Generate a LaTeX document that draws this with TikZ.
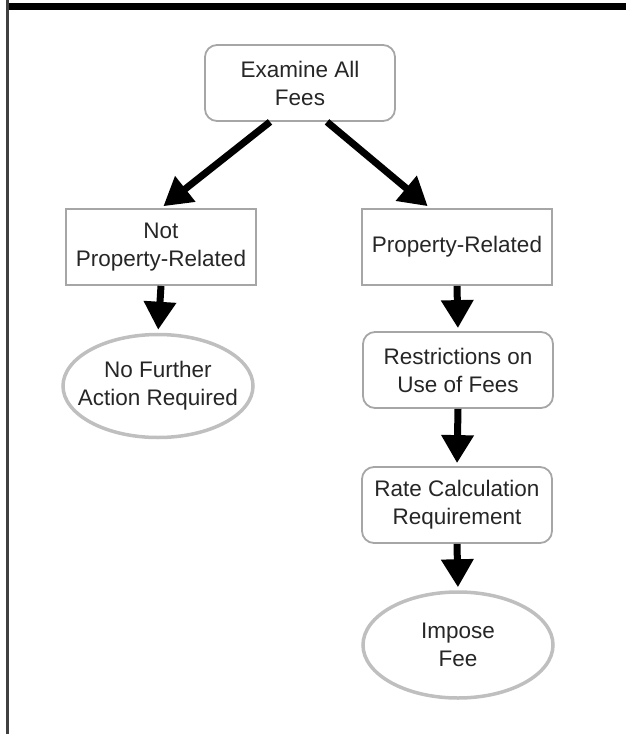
\documentclass[tikz,border=0pt]{standalone}
\usepackage{fontspec}
\setmainfont{Liberation Sans}
\usetikzlibrary{arrows.meta,shapes.geometric}
\tikzset{%
  stepnode/.style = {shape=rectangle, draw=black!35, line width=1.8pt,%
                     align=center, inner sep=0pt, text=black!85,%
                     minimum width=190pt, minimum height=76pt,%
                     font=\fontsize{22.5}{28}\selectfont},%
  roundnode/.style = {stepnode, rounded corners=12pt},%
  endnode/.style   = {stepnode, ellipse, draw=black!25, line width=3.5pt,%
                      inner xsep=-25pt, minimum height=103pt},%
  flow/.style      = {line width=7pt, -{Triangle[width=31pt,length=28pt]}, shorten >=3pt}%
}
\begin{document}
\begin{tikzpicture}[x=1pt,y=-1pt]
	\useasboundingbox (0,0) rectangle (626,734);
	% frame
	\fill[black] (7,3) rectangle (626,10);
	\draw[black!75,line width=2.5pt] (7.5,0) -- (7.5,734);
	% nodes
	\node[roundnode] (exam) at (300,83) {Examine All\\Fees};
	\node[stepnode] (notprop) at (161,247) {Not\\Property-Related};
	\node[endnode] (nofurther) at (158,386) {No Further\\Action Required};
	\node[stepnode] (prop) at (457,247) {Property-Related};
	\node[roundnode] (restrict) at (458,370) {Restrictions on\\Use of Fees};
	\node[roundnode] (rate) at (457,505) {Rate Calculation\\Requirement};
	\node[endnode, minimum height=106pt] (impose) at (458,645) {Impose\\Fee};
	% connectors
	\draw[flow] ([xshift=-30pt]exam.south) -- (notprop.north);
	\draw[flow] ([xshift=27pt]exam.south) -- ([xshift=-27pt]prop.north);
	\draw[flow] (notprop.south) -- (nofurther.north);
	\draw[flow] (prop.south) -- (restrict.north);
	\draw[flow] (restrict.south) -- (rate.north);
	\draw[flow] (rate.south) -- (impose.north);
\end{tikzpicture}
\end{document}
